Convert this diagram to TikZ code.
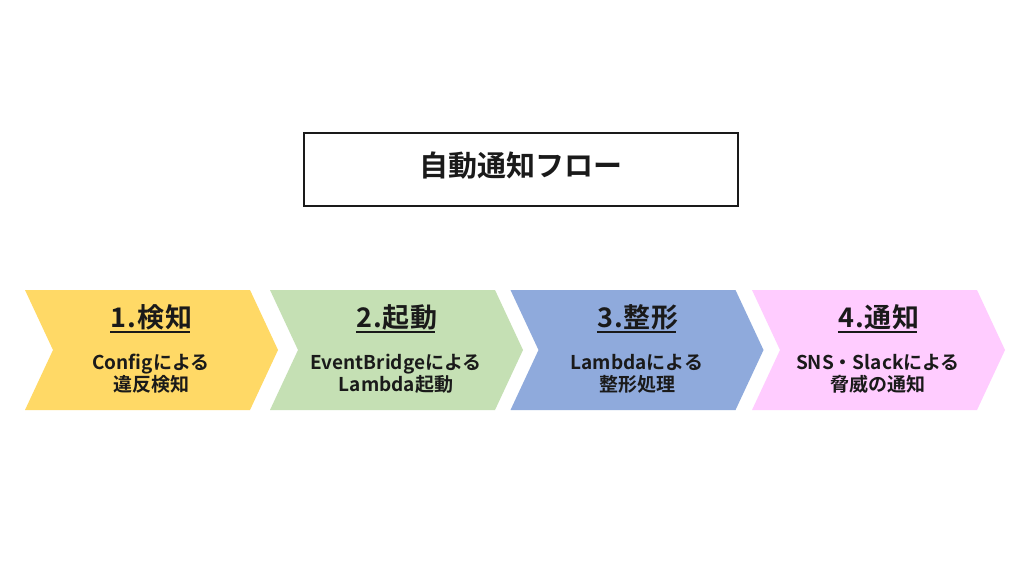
\documentclass[tikz,border=0pt]{standalone}
\usepackage{fontspec}
\setmainfont{Noto Sans CJK JP}[BoldFont={* Bold}]
\newfontfamily\jpb{Noto Sans CJK JP Bold}
\newfontfamily\jpbw{Noto Sans CJK JP Bold}[LetterSpace=4]
\definecolor{cyel}{HTML}{FFD966}
\definecolor{cgrn}{HTML}{C5E0B4}
\definecolor{cblu}{HTML}{8FAADC}
\definecolor{cpnk}{HTML}{FFCCFF}
\definecolor{ctxt}{HTML}{1A1A1A}
\tikzset{
  titlebox/.style={draw=ctxt, line width=2.2pt, fill=white, minimum width=434pt, minimum height=73pt, inner sep=0pt},
  titletext/.style={font=\jpb\fontsize{29}{34}\selectfont, text=ctxt, inner sep=0pt},
  headtext/.style={font=\jpbw\fontsize{27}{30}\selectfont, text=ctxt, inner sep=0pt, anchor=base},
  subtext/.style={font=\jpb\fontsize{19}{23}\selectfont, text=ctxt, inner sep=0pt, anchor=base},
  uline/.style={draw=ctxt, line width=2pt}
}
\begin{document}
\begin{tikzpicture}[x=1pt,y=-1pt]
\useasboundingbox (0,0) rectangle (1024,576);
\fill[white] (0,0) rectangle (1024,576);
% title
\node[titlebox] (tb) at (521,169.5) {};
\node[titletext] (tt) at (521,166) {自動通知フロー};
% chevrons
\foreach \L/\c/\n in {25/cyel/1, 270/cgrn/2, 510.5/cblu/3, 752/cpnk/4}{
  \fill[\c] (\L,290) -- ++(225,0) -- ++(28,60) -- ++(-28,60) -- ++(-225,0) -- ++(28,-60) -- cycle;
}
% texts
\node[headtext] (h1) at (151.5,327) {1.検知};
\node[subtext] (s1a) at (151,369) {Configによる};
\node[subtext] (s1b) at (151,391) {違反検知};
\node[headtext] (h2) at (397,327) {2.起動};
\node[subtext] (s2a) at (396,369) {EventBridgeによる};
\node[subtext] (s2b) at (396,391) {Lambda起動};
\node[headtext] (h3) at (638,327) {3.整形};
\node[subtext] (s3a) at (637,369) {Lambdaによる};
\node[subtext] (s3b) at (637,391) {整形処理};
\node[headtext] (h4) at (879,327) {4.通知};
\node[subtext] (s4a) at (878,369) {SNS・Slackによる};
\node[subtext] (s4b) at (878,391) {脅威の通知};
\foreach \h in {h1,h2,h3,h4}{
  \draw[uline] ([yshift=-5pt]\h.base west) -- ([yshift=-5pt,xshift=-3pt]\h.base east);
}
\end{tikzpicture}
\end{document}
